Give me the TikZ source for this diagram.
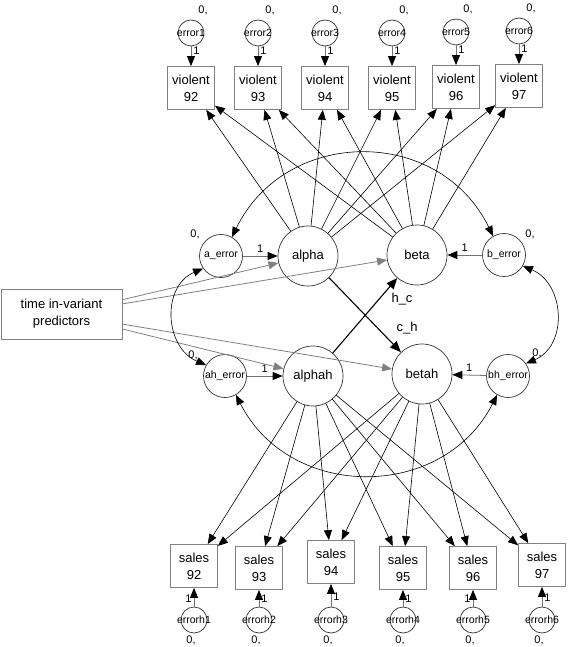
\documentclass[tikz,border=0pt]{standalone}
\usepackage{fontspec}
\setmainfont{Liberation Sans}
\usetikzlibrary{arrows.meta}
\newcommand{\zw}[1]{\makebox[0pt]{#1}}
\begin{document}
\begin{tikzpicture}[x=1pt,y=1pt, line join=round, line cap=round,
	lat/.style={circle,draw=black!80,line width=0.7pt,minimum size=60pt,inner sep=0pt,font=\fontsize{13}{15}\selectfont},
	err/.style={circle,draw=black!80,line width=0.7pt,minimum size=26pt,inner sep=0pt,font=\fontsize{10.5}{12}\selectfont},
	errm/.style={err,minimum size=43pt,font=\fontsize{10.5}{12}\selectfont},
	obs/.style={rectangle,draw=black!50,line width=0.8pt,minimum width=47pt,minimum height=43pt,inner sep=0pt,align=center,font=\fontsize{13}{17}\selectfont},
	lbl/.style={font=\fontsize{11}{12}\selectfont,inner sep=0pt},
	load/.style={-{Triangle[length=10pt,width=8pt]},line width=0.6pt},
	fixd/.style={-{Triangle[length=10pt,width=8pt,color=black]},draw=black!55,line width=0.8pt},
	pred/.style={-{Triangle[length=10pt,width=8pt]},draw=black!50,line width=0.8pt},
	cov/.style={{Triangle[length=10pt,width=8pt]}-{Triangle[length=10pt,width=8pt]},line width=0.6pt},
	cross/.style={-{Triangle[length=11pt,width=9pt]},line width=1.1pt}]
	\useasboundingbox (0,0) rectangle (568,-647);
	%Latente Faktoren.
	\node[lat] (alpha) at (308,-256) {alpha};
	\node[lat] (beta) at (417,-255) {beta};
	\node[lat] (alphah) at (313,-376) {alphah};
	\node[lat] (betah) at (422,-374) {betah};
	%Fehlerterme der Faktoren.
	\node[errm] (ae) at (221,-256) {\zw{a\_error}};
	\node[errm] (be) at (504,-255) {\zw{b\_error}};
	\node[errm] (ahe) at (225,-376) {\zw{ah\_error}};
	\node[errm] (bhe) at (508,-376) {\zw{bh\_error}};
	\node[lbl] at (195,-234) {0,};
	\node[lbl] at (530,-234) {0,};
	\node[lbl] at (193,-355) {0,};
	\node[lbl] at (537,-353) {0,};
	\draw[fixd] (ae) -- (alpha) node[lbl,midway,above=3pt]{1};
	\draw[fixd] (be) -- (beta) node[lbl,midway,above=3pt]{1};
	\draw[fixd] (ahe) -- (alphah) node[lbl,midway,above=3pt]{1};
	\draw[fixd] (bhe) -- (betah) node[lbl,midway,above=3pt]{1};
	%Pradiktoren.
	\node[rectangle,draw=black!50,line width=0.8pt,minimum width=121pt,minimum height=50pt,align=center,font=\fontsize{13}{17}\selectfont] (tip) at (61.5,-314) {time in-variant\\predictors};
	\foreach \n in {alpha,beta,alphah,betah}{
		\draw[pred] (tip) -- (\n);
	}
	%Violent 92--97.
	\foreach \i/\yr/\x/\y in {1/92/191/-88, 2/93/258/-88, 3/94/325/-88, 4/95/392/-88, 5/96/456/-87, 6/97/519/-86}{
		\node[obs] (v\i) at (\x,\y) {violent\\\yr};
		\node[err] (e\i) at (\x,{\y+55}) {\zw{error\i}};
		\node[lbl] at ({\x+12},{\y+78}) {0,};
		\draw[fixd] (e\i) -- (v\i) node[lbl,pos=0.2,right=2pt]{1};
	}
	%Sales 92--97.
	\foreach \i/\yr/\x/\y/\s in {1/92/194/-566/left, 2/93/259/-568/right, 3/94/331/-562/right, 4/95/403/-568/right, 5/96/473/-568/left, 6/97/542/-565/right}{
		\node[obs] (s\i) at (\x,\y) {sales\\\yr};
		\node[err] (eh\i) at (\x,-620) {\zw{errorh\i}};
		\node[lbl] at ({\x-3},-640) {0,};
		\draw[fixd] (eh\i) -- (s\i) node[lbl,pos=0.45,\s=2pt]{1};
	}
	%Ladungen.
	\foreach \i in {1,...,6}{
		\draw[load] (alpha) -- (v\i);
		\draw[load] (beta) -- (v\i);
		\draw[load] (alphah) -- (s\i);
		\draw[load] (betah) -- (s\i);
	}
	%Kreuzpfade.
	\draw[cross] (alpha) -- (betah);
	\draw[cross] (alphah) -- (beta);
	\node[font=\fontsize{13}{15}\selectfont] at (402,-299) {h\_c};
	\node[font=\fontsize{13}{15}\selectfont] at (407,-328) {c\_h};
	%Kovarianzen.
	\draw[cov] (ae.60) to[out=64,in=116,looseness=1.2] (be.120);
	\draw[cov] (ahe.-60) to[out=-63,in=-117,looseness=1.17] (bhe.-120);
	\draw[cov] (ae.215) to[out=203,in=157,looseness=1.2] (ahe.150);
	\draw[cov] (be.-30) to[out=-23,in=23,looseness=1.2] (bhe.35);
\end{tikzpicture}
\end{document}
